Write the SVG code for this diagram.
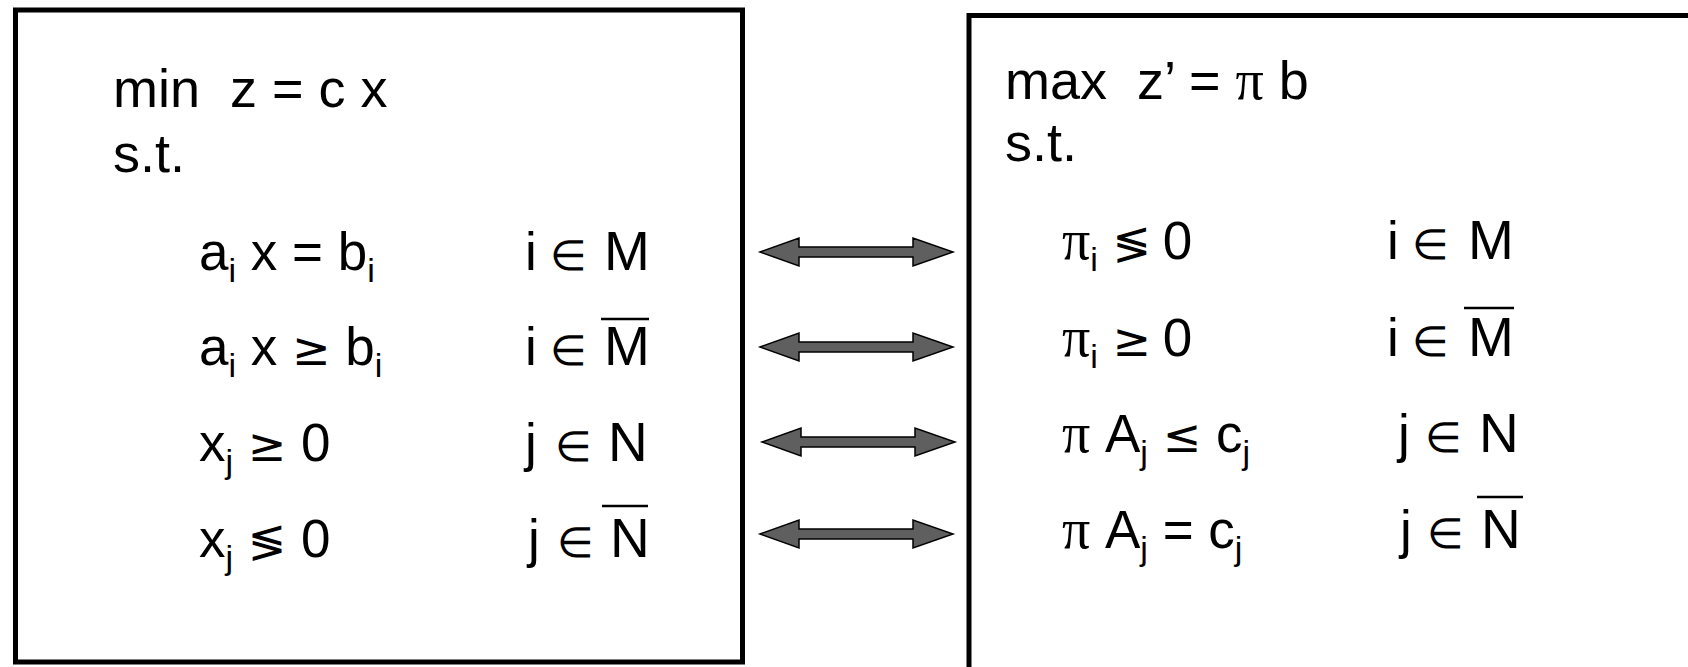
<svg xmlns="http://www.w3.org/2000/svg" width="1688" height="667" viewBox="0 0 1688 667">
<style>
  text { font-family: "Liberation Sans", Arial, sans-serif; font-size: 53px; fill: #000; white-space: pre; }
  .hd { font-size: 54px; }
  .sub { font-size: 34px; }
  .pi { font-family: "Liberation Serif", "Times New Roman", serif; font-size: 56px; }
  .sym { font-family: "DejaVu Sans", sans-serif; font-size: 46px; }
  .el { font-family: "DejaVu Sans", sans-serif; font-size: 42px; font-weight: 200; }
  .big { font-size: 55px; }
  .box { fill: #fff; stroke: #000; stroke-width: 5; }
  .bar { stroke: #000; stroke-width: 2.5; }
  .arrow { fill: #5f5f5f; stroke: #000; stroke-width: 1.5; stroke-linejoin: miter; }
</style>
<defs>
  <path id="dblarrow" class="arrow" d="M0,0 L39,-14 L39,-5 L153,-5 L153,-14 L193,0 L153,14 L153,5 L39,5 L39,14 Z"/>
</defs>
<rect width="1688" height="667" fill="#fff"/>

<g id="primal">
  <rect class="box" x="15.5" y="10" width="727" height="652"/>
  <text class="hd" x="113" y="107">min  z = c x</text>
  <text class="hd" x="113" y="172">s.t.</text>
  <text x="199" y="270">a<tspan class="sub" dy="12">i</tspan><tspan dy="-12"> x = b</tspan><tspan class="sub" dy="12">i</tspan></text>
  <text x="525" y="270">i</text><text class="el" x="550" y="270">∈</text><text class="big" x="604" y="270">M</text>
  <text x="199" y="365">a<tspan class="sub" dy="12">i</tspan><tspan dy="-12"> x </tspan><tspan class="sym">≥</tspan><tspan> b</tspan><tspan class="sub" dy="12">i</tspan></text>
  <text x="525" y="365">i</text><text class="el" x="550" y="365">∈</text><text class="big" x="604" y="365">M</text>
  <line class="bar" x1="601" y1="319" x2="649" y2="319"/>
  <text x="199" y="461">x<tspan class="sub" dy="12">j</tspan><tspan dy="-12"> </tspan><tspan class="sym">≥</tspan><tspan> 0</tspan></text>
  <text x="525" y="461">j</text><text class="el" x="555" y="461">∈</text><text class="big" x="608" y="461">N</text>
  <text x="199" y="557">x<tspan class="sub" dy="12">j</tspan><tspan dy="-12"> </tspan><tspan class="sym">≶</tspan><tspan> 0</tspan></text>
  <text x="528" y="557">j</text><text class="el" x="557" y="557">∈</text><text class="big" x="610" y="557">N</text>
  <line class="bar" x1="602" y1="506" x2="648" y2="506"/>
</g>

<g id="dual">
  <rect class="box" x="969" y="15.5" width="800" height="800"/>
  <text class="hd" x="1005" y="99">max  z’ = <tspan class="pi">π</tspan> b</text>
  <text class="hd" x="1005" y="161">s.t.</text>
  <text x="1062" y="259"><tspan class="pi">π</tspan><tspan class="sub" dy="12">i</tspan><tspan dy="-12"> </tspan><tspan class="sym">≶</tspan><tspan dx="-3"> 0</tspan></text>
  <text x="1387" y="259">i</text><text class="el" x="1412" y="259">∈</text><text class="big" x="1468" y="259">M</text>
  <text x="1062" y="356"><tspan class="pi">π</tspan><tspan class="sub" dy="12">i</tspan><tspan dy="-12"> </tspan><tspan class="sym">≥</tspan><tspan dx="-3"> 0</tspan></text>
  <text x="1387" y="356">i</text><text class="el" x="1412" y="356">∈</text><text class="big" x="1468" y="356">M</text>
  <line class="bar" x1="1464" y1="308" x2="1514" y2="308"/>
  <text x="1062" y="452"><tspan class="pi">π</tspan> A<tspan class="sub" dy="12">j</tspan><tspan dy="-12"> </tspan><tspan class="sym">≤</tspan><tspan> c</tspan><tspan class="sub" dy="12">j</tspan></text>
  <text x="1398" y="452">j</text><text class="el" x="1425" y="452">∈</text><text class="big" x="1479" y="452">N</text>
  <text x="1062" y="548"><tspan class="pi">π</tspan> A<tspan class="sub" dy="12">j</tspan><tspan dy="-12"> = c</tspan><tspan class="sub" dy="12">j</tspan></text>
  <text x="1400" y="548">j</text><text class="el" x="1427" y="548">∈</text><text class="big" x="1481" y="548">N</text>
  <line class="bar" x1="1477" y1="497" x2="1523" y2="497"/>
</g>

<g id="connectors">
  <use href="#dblarrow" x="760" y="252"/>
  <use href="#dblarrow" x="760" y="347"/>
  <use href="#dblarrow" x="762" y="442"/>
  <use href="#dblarrow" x="760" y="534"/>
</g>
</svg>
